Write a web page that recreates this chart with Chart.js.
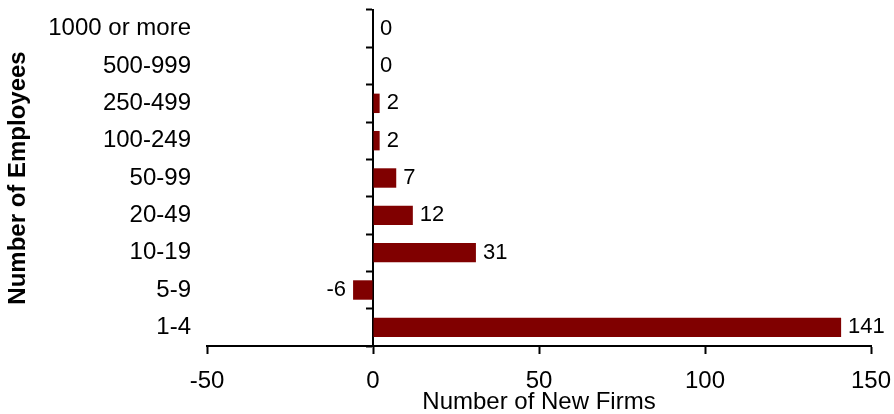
<!DOCTYPE html>
<html>
<head>
<meta charset="utf-8">
<title>New Firms by Number of Employees</title>
<script src="https://cdn.jsdelivr.net/npm/chart.js@4"></script>
<style>
    html, body { margin: 0; padding: 0; background: #ffffff; }
    #wrap { width: 894px; height: 414px; }
</style>
</head>
<body>
<div id="wrap"><canvas id="firmsChart" width="894" height="414"></canvas></div>
<script>
const sizeClasses = ['1000 or more', '500-999', '250-499', '100-249', '50-99', '20-49', '10-19', '5-9', '1-4'];
const newFirms = [0, 0, 2, 2, 7, 12, 31, -6, 141];
const xTicks = [-50, 0, 50, 100, 150];

const FONT = "'Liberation Sans', Arial, sans-serif";
const BAR_COLOR = '#800000';

// chart.js adds label overhang to the chart area, we size it ourselves
function noPadding(scale) {
    scale.paddingTop = 0;
    scale.paddingBottom = 0;
    scale.paddingLeft = 0;
    scale.paddingRight = 0;
}

// value labels at the end of each bar
const valueLabels = {
    id: 'valueLabels',
    afterDatasetsDraw(chart) {
        const ctx = chart.ctx;
        const meta = chart.getDatasetMeta(0);
        ctx.save();
        ctx.font = '22px ' + FONT;
        ctx.fillStyle = '#000000';
        ctx.textBaseline = 'middle';
        meta.data.forEach(function(bar, i) {
            const v = newFirms[i];
            if (v < 0) {
                ctx.textAlign = 'right';
                ctx.fillText(String(v), bar.x - 7, bar.y);
            } else {
                ctx.textAlign = 'left';
                ctx.fillText(String(v), bar.x + 7, bar.y);
            }
        });
        ctx.restore();
    }
};

const ctx = document.getElementById('firmsChart').getContext('2d');
new Chart(ctx, {
    type: 'bar',
    data: {
        labels: sizeClasses,
        datasets: [{
            data: newFirms,
            backgroundColor: BAR_COLOR,
            borderWidth: 0,
            categoryPercentage: 1,
            barPercentage: 0.52
        }]
    },
    options: {
        indexAxis: 'y',
        responsive: false,
        animation: false,
        layout: { padding: { top: 10, right: 23, left: 0, bottom: 0 } },
        plugins: {
            legend: { display: false },
            tooltip: { enabled: false }
        },
        scales: {
            x: {
                type: 'linear',
                min: -50,
                max: 150,
                afterBuildTicks(scale) {
                    scale.ticks = xTicks.map(v => ({ value: v }));
                },
                afterFit(scale) {
                    scale.height = 68;
                    noPadding(scale);
                },
                grid: {
                    drawOnChartArea: false,
                    drawTicks: true,
                    tickLength: 8,
                    tickWidth: 2,
                    tickColor: '#000000'
                },
                border: { display: true, color: '#000000', width: 2 },
                ticks: {
                    color: '#000000',
                    padding: 13,
                    font: { family: FONT, size: 24 }
                },
                title: {
                    display: true,
                    text: 'Number of New Firms',
                    color: '#000000',
                    padding: { top: 0, bottom: 0 },
                    font: { family: FONT, size: 24, lineHeight: 1 }
                }
            },
            y: {
                type: 'category',
                position: 'left',
                afterFit(scale) {
                    scale.width = 207;
                    noPadding(scale);
                },
                grid: { display: false },
                border: { display: false },
                ticks: {
                    color: '#000000',
                    padding: 8,
                    font: { family: FONT, size: 24 }
                },
                title: {
                    display: true,
                    text: 'Number of Employees',
                    color: '#000000',
                    padding: { top: 4, bottom: 0 },
                    font: { family: FONT, size: 24, weight: 'bold' }
                }
            },
            zero: {
                type: 'category',
                axis: 'y',
                position: { x: 0 },
                offset: true,
                afterFit: noPadding,
                grid: {
                    offset: true,
                    drawOnChartArea: false,
                    drawTicks: true,
                    tickLength: 6,
                    tickWidth: 2,
                    tickColor: '#000000'
                },
                border: { display: true, color: '#000000', width: 2 },
                ticks: { display: false }
            }
        }
    },
    plugins: [valueLabels]
});
</script>
</body>
</html>
